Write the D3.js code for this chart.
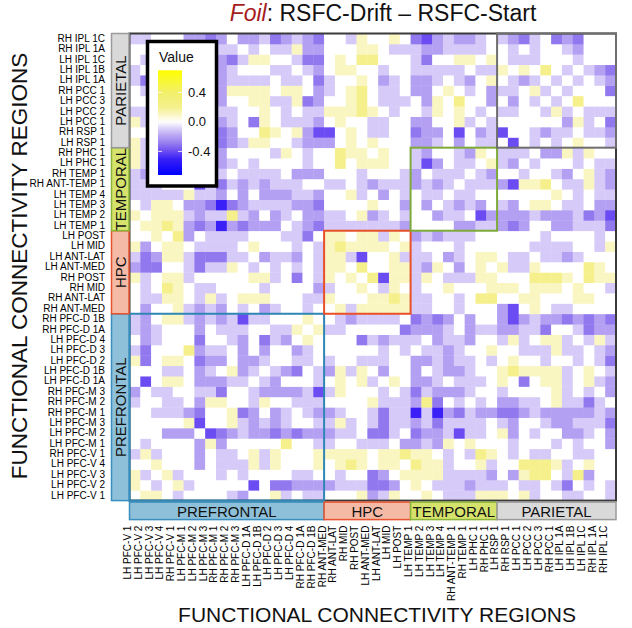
<!DOCTYPE html>
<html>
<head>
<meta charset="utf-8">
<script src="https://cdn.jsdelivr.net/npm/d3@7"></script>
<style>
    body { margin: 0; background: #fff; }
    #chart-area { width: 632px; height: 628px; }
    text { font-family: "Liberation Sans", Arial, sans-serif; }
</style>
</head>
<body>
<div id="chart-area"></div>
<script>

// Regions in x axis order (the y axis runs the same list from bottom to top)
const regions = [
    "LH PFC-V 1", "LH PFC-V 2", "LH PFC-V 3", "LH PFC-V 4", "RH PFC-V 1",
    "LH PFC-M 1", "LH PFC-M 2", "LH PFC-M 3", "RH PFC-M 1", "RH PFC-M 2", "RH PFC-M 3",
    "LH PFC-D 1A", "LH PFC-D 1B", "LH PFC-D 2", "LH PFC-D 3", "LH PFC-D 4", "RH PFC-D 1A", "RH PFC-D 1B",
    "RH ANT-MED", "RH ANT-LAT", "RH MID", "RH POST", "LH ANT-MED", "LH ANT-LAT", "LH MID", "LH POST",
    "LH TEMP 1", "LH TEMP 2", "LH TEMP 3", "LH TEMP 4", "RH ANT-TEMP 1", "RH TEMP 1", "LH PHC 1", "RH PHC 1",
    "LH RSP 1", "RH RSP 1", "LH PCC 1", "LH PCC 2", "LH PCC 3", "RH PCC 1",
    "LH IPL 1A", "LH IPL 1B", "LH IPL 1C", "RH IPL 1A", "RH IPL 1C"
];

// Region groups along both axes
const groupNames = ["PREFRONTAL", "HPC", "TEMPORAL", "PARIETAL"];
const groupSizes = [18, 8, 8, 11];

// Legend ticks
const legendTicks = [0.4, 0.0, -0.4];

// Lower triangle of the (symmetric) matrix, in tenths:
// diffTenths[i][j] = region i vs region j, for j <= i
const diffTenths = [
    [0],
    [1,0],
    [1,-1,0],
    [0,0,1,0],
    [-1,1,-1,0,0],
    [0,-1,0,0,0,0],
    [0,0,0,-2,-2,-2,0],
    [0,0,0,0,0,1,-4,0],
    [0,0,-1,-1,-1,-2,-3,0,0],
    [-1,0,0,-1,-1,0,-2,1,1,0],
    [-2,0,-1,-1,0,0,-1,-1,-3,0,0],
    [0,-4,0,1,1,0,-2,-2,-2,-1,-1,0],
    [0,0,0,-1,-1,0,-2,-1,0,1,-2,-1,0],
    [1,-3,0,1,1,0,-3,-2,-2,0,-2,-2,-1,0],
    [-1,-3,0,0,0,2,-2,-1,-1,0,-2,0,-2,0,0],
    [0,-2,-1,0,0,0,-3,0,0,-1,-2,0,-3,-1,-2,0],
    [-1,-2,-1,0,0,0,-2,0,-1,-1,-1,0,0,-1,-1,1,0],
    [-1,-2,0,1,1,-1,-2,-1,-2,-1,-4,-1,-1,0,0,0,1,0],
    [0,-2,0,0,1,-1,-2,-1,-2,0,-1,0,-2,-1,0,0,-1,0,0],
    [0,-1,-1,1,1,0,-1,1,-1,0,1,1,1,0,0,0,-1,-1,1,0],
    [0,-1,0,2,1,0,-1,-1,0,0,0,0,-1,0,0,0,0,-2,-1,0,0],
    [1,-1,0,1,1,-1,0,0,0,0,0,1,1,-1,0,-3,0,-1,1,0,1,0],
    [-2,-3,-3,0,0,-1,-3,-1,-1,1,0,-1,0,-1,0,-1,0,-1,1,1,0,2,0],
    [-1,-3,-2,1,1,-1,-3,-3,-3,-1,-1,0,-2,-1,-1,-2,0,-1,1,1,-1,-4,0,0],
    [1,-2,0,1,1,0,-1,-1,-1,-1,0,1,0,0,0,-1,0,-1,1,2,1,1,1,1,0],
    [0,0,1,0,2,-2,0,-1,-1,-1,-1,0,0,0,-1,-1,-3,0,1,1,0,1,1,-1,1,0],
    [0,1,1,2,1,-2,-3,-2,-5,-2,-3,-2,-2,-2,0,-1,-2,-3,-1,-1,-1,-1,-1,-1,-1,-2,0],
    [1,0,1,1,1,-1,-2,-1,-1,2,-1,-2,0,-2,-1,0,-2,-2,-1,-1,0,1,-2,-1,0,-1,0,0],
    [0,-1,1,1,0,-2,-2,-3,-5,-3,-2,-1,-1,-1,-1,-2,-2,-3,0,0,0,0,1,0,0,-2,0,-2,0],
    [-1,-1,-1,-1,-1,1,-1,-1,-2,0,-2,0,-2,-2,-2,-1,-1,-2,0,0,1,-1,0,-2,0,-1,0,-1,-1,0],
    [-1,-1,-1,0,0,0,-4,-1,-3,-1,-2,-1,-2,-1,-1,-1,0,0,-1,-1,0,-1,-2,-1,-1,-1,-2,-1,-2,-1,0],
    [-1,-2,-1,0,-1,1,-1,-1,-1,0,-1,-1,-1,-1,0,-2,-2,-2,0,0,0,-1,0,0,0,-1,-2,0,-1,-1,-1,0],
    [1,-1,-1,1,2,0,-1,-1,-2,-1,0,-1,0,0,0,0,-1,0,0,2,0,1,1,1,0,0,-1,-4,-2,0,-1,-1,0],
    [1,-1,-2,-1,1,0,0,0,-2,0,0,0,0,-1,1,0,-1,0,0,2,1,1,0,1,0,0,-1,-2,0,0,-1,-2,1,0],
    [1,-1,0,0,0,0,1,-1,-3,-2,-1,1,1,0,0,-1,-2,-2,-2,0,1,0,1,0,0,0,-2,-2,-1,0,-2,0,-1,-1,0],
    [0,0,-2,0,-1,-1,-2,-2,-3,-2,0,0,2,1,0,1,-2,-4,-4,0,1,0,-1,-1,0,0,-3,-2,-2,0,-4,0,-2,-1,-4,0],
    [1,-1,1,2,0,0,0,0,-2,-1,0,-3,1,0,-1,-1,-1,-2,0,1,0,0,-1,-1,0,0,-2,-2,0,0,1,-1,0,-1,0,0,0],
    [-1,-1,2,2,-1,0,-1,0,-1,-1,0,0,1,0,-1,0,-1,-1,1,1,1,2,1,0,-1,0,0,-1,1,0,1,0,-1,0,-1,-1,0,0],
    [0,0,2,2,-1,0,0,-1,-2,0,0,1,1,-1,-1,1,-3,-2,0,0,1,2,0,-1,-1,-1,0,-2,1,0,2,0,0,-2,0,-2,0,-1,0],
    [0,-1,0,1,0,-1,0,-2,-2,1,1,1,1,0,1,1,0,-2,-1,0,1,2,0,-1,-1,0,-2,-2,0,1,0,-1,0,-2,-1,-1,0,1,-1,0],
    [-1,-3,-1,-1,0,0,-2,-2,-2,-1,-1,-1,-1,0,-1,-1,0,-3,-1,0,0,1,0,-2,-1,0,-2,-2,-1,0,-1,-2,0,1,0,-1,-2,-1,0,-1,0],
    [-1,0,2,0,-1,-1,-2,-1,-2,-1,0,0,0,-1,-1,0,-1,-2,0,1,1,0,0,-1,0,0,-1,-1,-1,-1,-1,0,-1,-1,1,0,1,0,2,0,-1,0],
    [0,-1,-2,1,-1,0,-1,-1,-2,-3,-1,1,1,0,0,-1,-3,-3,0,1,0,2,2,0,0,0,-1,-3,0,0,1,1,0,1,0,-1,-1,-1,0,0,0,-1,0],
    [0,0,0,0,0,0,0,-1,-1,-1,0,-1,0,-1,-1,1,-2,-2,0,0,0,1,1,0,-1,-1,-1,-2,-2,-1,-1,-1,-1,0,0,-1,0,-1,0,0,-1,-2,0,0],
    [-1,-1,0,0,0,-2,-2,-3,-2,0,-2,-2,-1,-3,-2,-1,-2,-3,0,0,-1,1,0,0,1,0,-3,-4,-2,-1,-2,-2,-1,0,-1,-2,-3,-1,0,-3,-2,-3,0,0,0]
];


class HeatMap {
    // Constructor method to initialize HeatMap object
    constructor(parentElement){
        this.parentElement = parentElement;

        this.initVis()
    }

    initVis(){
        let vis = this;

        //Set margin
        vis.margin = {top: 33.5, right: 16, bottom: 127.4, left: 129.5};
        vis.fullWidth = 632;
        vis.fullHeight = 628;

        //Set width and height
        vis.width = vis.fullWidth - vis.margin.left - vis.margin.right;
        vis.height = vis.fullHeight - vis.margin.top - vis.margin.bottom;

        // SVG drawing area
        vis.root = d3.select("#" + vis.parentElement).append("svg")
            .attr("width", vis.fullWidth)
            .attr("height", vis.fullHeight);

        vis.svg = vis.root.append("g")
            .attr("transform", "translate(" + vis.margin.left + "," + vis.margin.top + ")");

        // Scales and axes
        vis.x = d3.scaleBand()
            .range([0, vis.width]);

        vis.y = d3.scaleBand()
            .range([0, vis.height]);

        // blue - purple - white - yellow ramp, steeper close to zero
        vis.color = d3.scaleLinear()
            .domain([-0.72, -0.5, -0.4, -0.3, -0.2, -0.1, 0, 0.1, 0.2, 0.4, 0.7])
            .range(["#0000ff", "#3a20f6", "#6a4cf2", "#9178ee", "#b4a0f2", "#d6cbf8",
                    "#ffffff", "#faf6c2", "#f5f08c", "#f2ef6a", "#ffff00"])
            .clamp(true);

        vis.xAxis = d3.axisBottom()
            .scale(vis.x)
            .tickSize(0);

        vis.yAxis = d3.axisLeft()
            .scale(vis.y)
            .tickSize(0)
            .tickPadding(6.5);

        vis.cellLayer = vis.svg.append("g").attr("class", "cells");

        vis.svg.append("g")
            .attr("class", "x-axis axis")
            .attr("transform", "translate(0," + (vis.height + 19) + ")");

        vis.svg.append("g")
            .attr("class", "y-axis axis")
            .attr("transform", "translate(-18,0)");

        vis.wrangleData()
    }

    wrangleData(){
        let vis = this

        // Fill the full matrix from the lower triangle
        vis.data = [];
        regions.forEach((rowName, i) => {
            regions.forEach((colName, j) => {
                let t = j <= i ? diffTenths[i][j] : diffTenths[j][i];
                vis.data.push({row: rowName, col: colName, value: (t || 0) / 10});
            });
        });

        // Group extents along the region list
        vis.groups = [];
        let start = 0;
        groupNames.forEach((name, k) => {
            vis.groups.push({name: name, first: regions[start], last: regions[start + groupSizes[k] - 1]});
            start += groupSizes[k];
        });

        vis.updateVis()
    }

    updateVis(){
        let vis = this;

        let groupFill = {PREFRONTAL: "#8ec1d9", HPC: "#f4baa6", TEMPORAL: "#d5e36c", PARIETAL: "#d9d9d9"};
        let groupStroke = {PREFRONTAL: "#3a8fbf", HPC: "#e8532f", TEMPORAL: "#8cb43a", PARIETAL: "#9a9a9a"};
        let boxStroke = {PREFRONTAL: "#2e86b5", HPC: "#e8502a", TEMPORAL: "#7daa3a", PARIETAL: "#6e6e6e"};

        //Update domains
        vis.x.domain(regions)
        vis.y.domain(regions.slice().reverse())

        let bw = vis.x.bandwidth();
        let bh = vis.y.bandwidth();

        // Cells
        vis.cells = vis.cellLayer.selectAll(".cell")
            .data(vis.data)

        vis.cells.enter()
            .append("rect")
            .attr("class", "cell")
            .merge(vis.cells)
            .attr("x", d => vis.x(d.col))
            .attr("y", d => vis.y(d.row))
            .attr("width", bw + 0.4)
            .attr("height", bh + 0.4)
            .attr("fill", d => vis.color(d.value));

        vis.cells.exit().remove();

        // Outer frame of the matrix
        vis.svg.append("rect")
            .attr("x", 0)
            .attr("y", 0)
            .attr("width", vis.width)
            .attr("height", vis.height)
            .attr("fill", "none")
            .attr("stroke", "#3a3a3a")
            .attr("stroke-width", 2);

        // Boxes round the diagonal blocks
        vis.svg.selectAll(".block-box")
            .data(vis.groups)
            .enter()
            .append("rect")
            .attr("class", "block-box")
            .attr("x", d => vis.x(d.first))
            .attr("y", d => vis.y(d.last))
            .attr("width", d => vis.x(d.last) + bw - vis.x(d.first))
            .attr("height", d => vis.y(d.first) + bh - vis.y(d.last))
            .attr("fill", "none")
            .attr("stroke", d => boxStroke[d.name])
            .attr("stroke-width", 2);

        //Update axes
        vis.svg.select(".x-axis").call(vis.xAxis)
        vis.svg.select(".y-axis").call(vis.yAxis)

        vis.svg.selectAll(".axis .domain").remove();

        vis.svg.select(".x-axis").selectAll("text")
            .attr("transform", "rotate(-90)")
            .attr("x", -6)
            .attr("y", -4)
            .attr("dy", 0)
            .style("text-anchor", "end")
            .style("font-size", "10px")
            .attr("fill", "#000");

        vis.svg.select(".y-axis").selectAll("text")
            .style("font-size", "10px")
            .attr("fill", "#000");

        // Group bars under the x axis
        let xBars = vis.svg.selectAll(".x-group")
            .data(vis.groups)
            .enter()
            .append("g")
            .attr("class", "x-group");

        xBars.append("rect")
            .attr("x", d => vis.x(d.first))
            .attr("y", vis.height + 1.5)
            .attr("width", d => vis.x(d.last) + bw - vis.x(d.first))
            .attr("height", 17.5)
            .attr("fill", d => groupFill[d.name])
            .attr("stroke", d => groupStroke[d.name])
            .attr("stroke-width", 1.5);

        xBars.append("text")
            .attr("x", d => (vis.x(d.first) + vis.x(d.last) + bw) / 2)
            .attr("y", vis.height + 10.5)
            .attr("dy", "0.36em")
            .attr("text-anchor", "middle")
            .style("font-size", "15px")
            .attr("fill", "#111")
            .text(d => d.name);

        // Group bars beside the y axis
        let yBars = vis.svg.selectAll(".y-group")
            .data(vis.groups)
            .enter()
            .append("g")
            .attr("class", "y-group");

        yBars.append("rect")
            .attr("x", -18)
            .attr("y", d => vis.y(d.last))
            .attr("width", 17.5)
            .attr("height", d => vis.y(d.first) + bh - vis.y(d.last))
            .attr("fill", d => groupFill[d.name])
            .attr("stroke", d => groupStroke[d.name])
            .attr("stroke-width", 1.5);

        yBars.append("text")
            .attr("transform", d => "translate(-9," + ((vis.y(d.last) + vis.y(d.first) + bh) / 2) + ") rotate(-90)")
            .attr("dy", "0.36em")
            .attr("text-anchor", "middle")
            .style("font-size", "15px")
            .attr("fill", "#111")
            .text(d => d.name);

        // Axis titles
        vis.root.append("text")
            .attr("x", 377)
            .attr("y", 622)
            .attr("text-anchor", "middle")
            .style("font-size", "21px")
            .attr("fill", "#111")
            .text("FUNCTIONAL CONNECTIVITY REGIONS");

        vis.root.append("text")
            .attr("transform", "translate(27,266) rotate(-90)")
            .attr("text-anchor", "middle")
            .style("font-size", "22.5px")
            .attr("fill", "#111")
            .text("FUNCTIONAL CONNECTIVITY REGIONS");

        // Title
        let title = vis.root.append("text")
            .attr("x", 383)
            .attr("y", 21)
            .attr("text-anchor", "middle")
            .style("font-size", "23px")
            .attr("fill", "#111");

        title.append("tspan")
            .style("font-style", "italic")
            .attr("fill", "#a51c1c")
            .text("Foil");

        title.append("tspan")
            .text(": RSFC-Drift \u2013 RSFC-Start");

        vis.drawLegend();
    }

    drawLegend(){
        let vis = this;

        let legend = vis.root.append("g")
            .attr("class", "legend");

        legend.append("rect")
            .attr("x", 147.5)
            .attr("y", 41.5)
            .attr("width", 69)
            .attr("height", 144.5)
            .attr("fill", "#fff")
            .attr("stroke", "#000")
            .attr("stroke-width", 3.5);

        legend.append("text")
            .attr("x", 159)
            .attr("y", 62)
            .style("font-size", "14px")
            .attr("fill", "#111")
            .text("Value");

        // Scale for the colour bar
        vis.legendScale = d3.scaleLinear()
            .domain([-0.72, 0.7])
            .range([175, 70.3]);

        let grad = vis.root.append("defs")
            .append("linearGradient")
            .attr("id", "value-grad")
            .attr("x1", 0).attr("y1", 1)
            .attr("x2", 0).attr("y2", 0);

        grad.selectAll("stop")
            .data(d3.range(0, 1.0001, 0.025))
            .enter()
            .append("stop")
            .attr("offset", d => d)
            .attr("stop-color", d => vis.color(-0.72 + d * 1.42));

        legend.append("rect")
            .attr("x", 158)
            .attr("y", 70.3)
            .attr("width", 24)
            .attr("height", 104.7)
            .attr("fill", "url(#value-grad)");

        // Little white tick marks on the bar
        legend.selectAll(".tick-l")
            .data(legendTicks)
            .enter()
            .append("line")
            .attr("x1", 158).attr("x2", 162)
            .attr("y1", d => vis.legendScale(d))
            .attr("y2", d => vis.legendScale(d))
            .attr("stroke", "#fff")
            .attr("stroke-opacity", 0.8);

        legend.selectAll(".tick-r")
            .data(legendTicks)
            .enter()
            .append("line")
            .attr("x1", 178).attr("x2", 182)
            .attr("y1", d => vis.legendScale(d))
            .attr("y2", d => vis.legendScale(d))
            .attr("stroke", "#fff")
            .attr("stroke-opacity", 0.8);

        legend.selectAll(".legend-label")
            .data(legendTicks)
            .enter()
            .append("text")
            .attr("class", "legend-label")
            .attr("x", 188)
            .attr("y", d => vis.legendScale(d))
            .attr("dy", "0.35em")
            .style("font-size", "13px")
            .attr("fill", "#111")
            .text(d => d.toFixed(1));
    }
}

let heatMap = new HeatMap("chart-area");
</script>
</body>
</html>
